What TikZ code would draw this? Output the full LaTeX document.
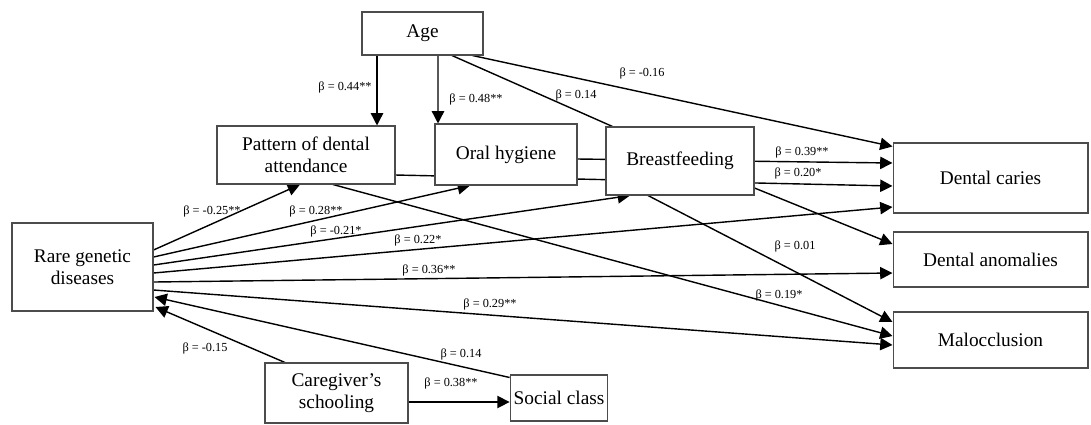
\documentclass[tikz,border=0pt]{standalone}
\usepackage{fontspec}
\setmainfont{Liberation Serif}
\usetikzlibrary{arrows.meta,calc}
\pgfdeclarelayer{bg}
\pgfsetlayers{bg,main}
\tikzset{
  box/.style={draw=black!70, line width=0.6pt, fill=white, align=center,
    font=\fontsize{11}{12.5}\selectfont, inner sep=2pt},
  beta/.style={font=\fontsize{7}{8}\selectfont, inner sep=0pt},
  lnk/.style={line width=0.8pt},
  arr/.style={lnk, -{Triangle[length=7pt,width=7pt]}}
}

\begin{document}
\begin{tikzpicture}[x=0.02cm, y=-0.02cm]
  \useasboundingbox (0,0) rectangle (1091,424);
  % boxes
  \node[box, minimum width=2.42cm, minimum height=0.86cm] (age) at (422.5,33.5) {Age};
  \node[box, minimum width=3.56cm, minimum height=1.16cm] (pattern) at (306,155) {Pattern of dental\\attendance};
  \node[box, minimum width=2.84cm, minimum height=1.22cm] (oral) at (506,154.5) {Oral hygiene};
  \node[box, minimum width=2.96cm, minimum height=1.36cm] (breast) at (680,161) {Breastfeeding};
  \node[box, minimum width=3.90cm, minimum height=1.40cm] (caries) at (990.5,178) {Dental caries};
  \node[box, minimum width=3.90cm, minimum height=1.10cm] (anom) at (990.5,259.5) {Dental anomalies};
  \node[box, minimum width=3.90cm, minimum height=1.12cm] (maloc) at (990.5,340) {Malocclusion};
  \node[box, minimum width=2.82cm, minimum height=1.76cm] (rare) at (82.5,267) {Rare genetic\\diseases};
  \node[box, minimum width=2.86cm, minimum height=1.20cm] (care) at (336.5,393) {Caregiver’s\\schooling};
  \node[box, minimum width=1.92cm, minimum height=0.92cm] (social) at (559,398) {Social class};

  % paths (behind the boxes)
  \begin{pgfonlayer}{bg}
    \draw[arr] ($(age.south)+(-45.5,0)$) -- ($(pattern.north)+(71,0)$);
    \draw[arr] ($(age.south)+(15.5,0)$) -- ($(oral.north)+(-68,0)$);
    \draw[lnk] ($(age.south)+(29.5,0)$) -- ($(breast.north west)+(7,0)$);
    \draw[arr] ($(age.south east)+(-11,0)$) -- ($(caries.north west)+(0,4)$);
    \draw[arr] ($(pattern.east)+(0,20)$) -- ($(caries.west)+(0,8)$);
    \draw[arr] ($(oral.east)+(0,4.5)$) -- ($(caries.west)+(0,-15)$);
    \draw[arr] ($(breast.east)+(0,27)$) -- ($(anom.west)+(0,-15.5)$);
    \draw[arr] ($(breast.south)+(-32,0)$) -- ($(maloc.west)+(0,-18)$);
    \draw[arr] ($(pattern.south)+(27,0)$) -- ($(maloc.west)+(0,-4)$);
    \draw[arr] ($(rare.east)+(0,-17)$) -- ($(pattern.south)+(-6,0)$);
    \draw[arr] ($(rare.east)+(0,-10)$) -- ($(oral.south)+(-36,0)$);
    \draw[arr] ($(rare.east)+(0,-2)$) -- ($(breast.south)+(-50,0)$);
    \draw[arr] ($(rare.east)+(0,6)$) -- ($(caries.west)+(0,29)$);
    \draw[arr] ($(rare.east)+(0,15)$) -- ($(anom.west)+(0,13.5)$);
    \draw[arr] ($(rare.east)+(0,23)$) -- ($(maloc.west)+(0,5)$);
    \draw[arr] ($(care.east)+(0,9)$) -- ($(social.west)+(0,4)$);
    \draw[arr] ($(care.north)+(-51.5,0)$) -- ($(rare.east)+(2,40)$);
    \draw[arr] ($(social.north west)+(0,3)$) -- ($(rare.east)+(1,30)$);
  \end{pgfonlayer}

  % coefficients
  \foreach \x/\y/\v [count=\i] in {345/87/0.44**, 476/99/0.48**, 576/95/0.14,
      642/73/-0.16, 802/152/0.39**, 798/173/0.20*, 795/246/0.01, 779/295/0.19*,
      212/211/-0.25**, 316/211/0.28**, 336/231/-0.21*, 418/240/0.22*,
      429/270/0.36**, 490/304/0.29**, 461/354/0.14, 451/383/0.38**, 205/348/-0.15}
    \node[beta] (b\i) at (\x,\y) {β = \v};
\end{tikzpicture}
\end{document}
